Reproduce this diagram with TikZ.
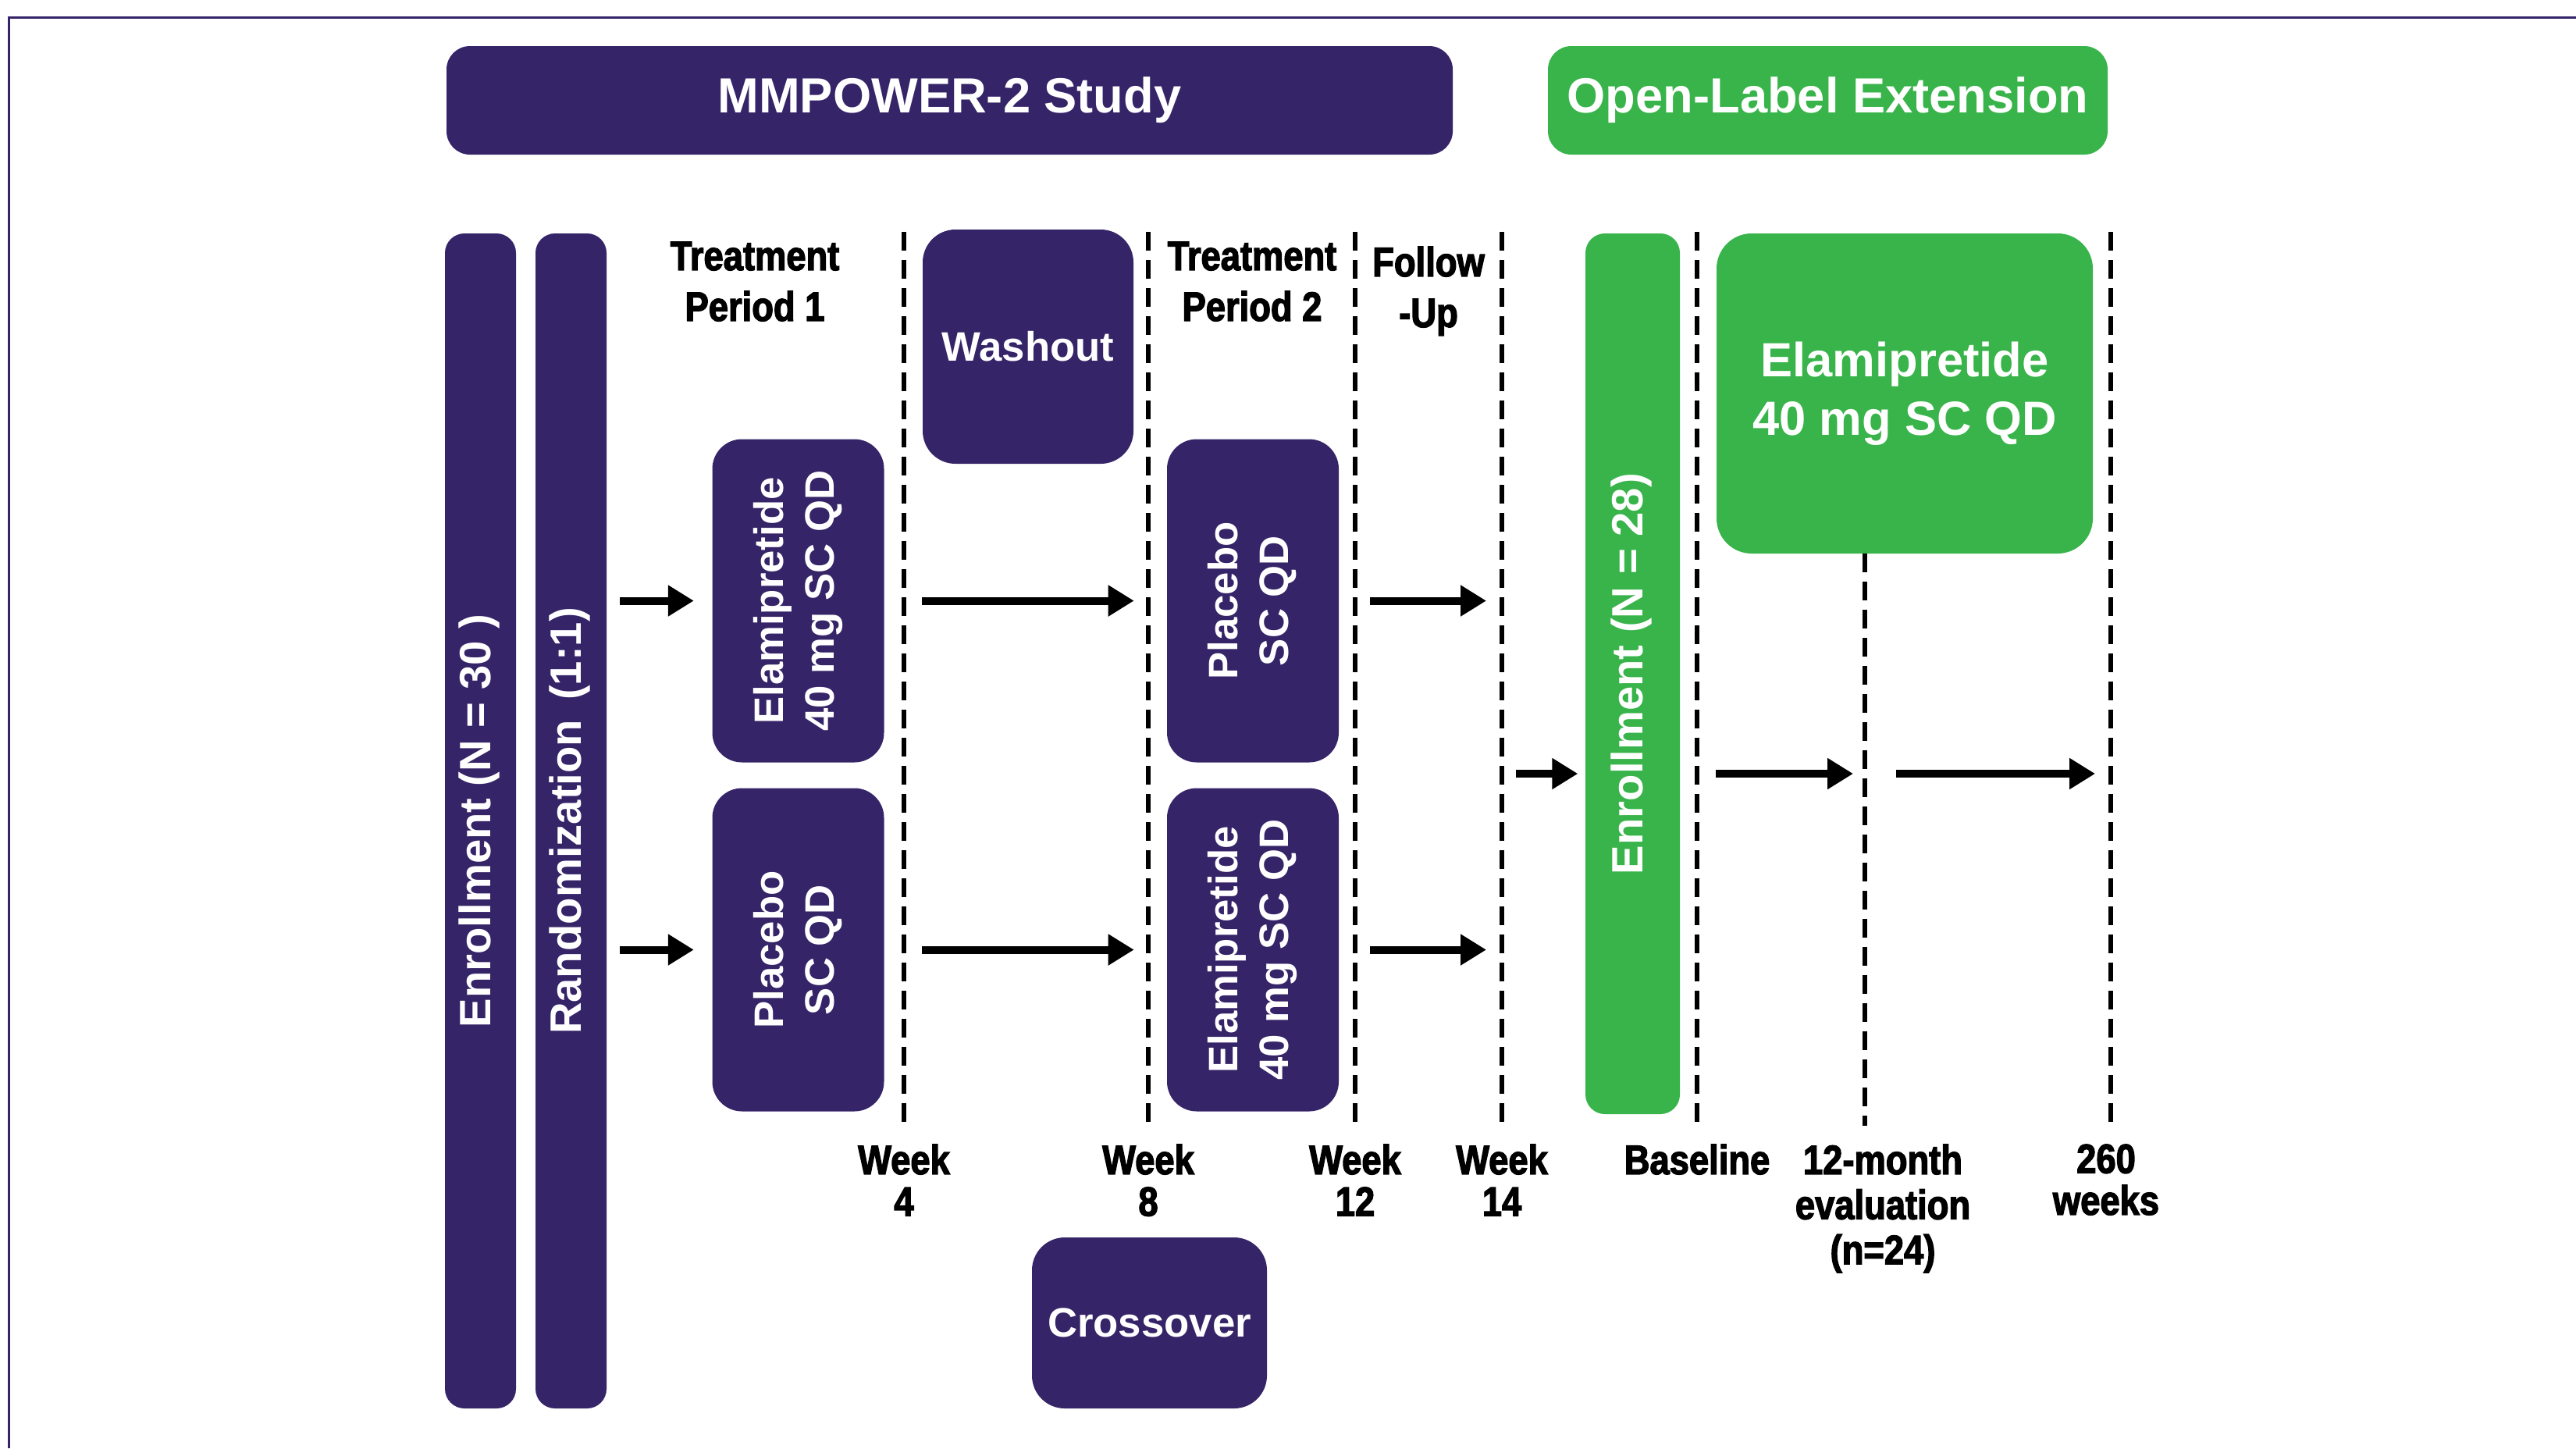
\documentclass[tikz,border=0pt]{standalone}
\usepackage{fontspec}
\setmainfont{Liberation Sans}
\newfontfamily\condfont[FakeStretch=0.86,FakeBold=2.5]{Liberation Sans}
\usepackage{graphicx}
\usetikzlibrary{arrows.meta}
\definecolor{mmpurple}{RGB}{54,36,104}
\definecolor{olegreen}{RGB}{56,180,74}
\newcommand{\vtext}[1]{\rotatebox{90}{\begin{tabular}{@{}c@{}}#1\end{tabular}}}
\begin{document}
\begin{tikzpicture}[every node/.style={inner sep=0pt},
  bar/.style={text=white,rounded corners=0.25cm,minimum height=15.05cm,font=\fontsize{16}{19}\selectfont\bfseries},
  head/.style={rounded corners=0.3cm,minimum height=1.39cm,text=white,font=\fontsize{18}{21}\selectfont\bfseries},
  arm/.style={fill=mmpurple,text=white,rounded corners=0.38cm,minimum width=2.2cm,minimum height=4.14cm,font=\fontsize{15}{18.5}\selectfont\bfseries},
  pause/.style={fill=mmpurple,text=white,rounded corners=0.42cm,font=\fontsize{15}{18}\selectfont\bfseries},
  period/.style={align=center,anchor=north,font=\condfont\fontsize{15}{18.5}\selectfont\bfseries},
  wklbl/.style={align=center,anchor=north,font=\condfont\fontsize{15}{15.2}\selectfont\bfseries},
  tick/.style={line width=0.055cm,dash pattern=on 0.24cm off 0.12cm},
  arr/.style={line width=0.1cm,-{Triangle[length=0.33cm,width=0.38cm]}}]
\useasboundingbox (0,0) rectangle (33,-18.55);
\draw[mmpurple,line width=0.03cm] (0.12,-18.55) -- (0.12,-0.22) -- (33,-0.22);
% headers
\node[head,fill=mmpurple,minimum width=12.89cm] (study) at (12.165,-1.285) {MMPOWER-2 Study};
\node[head,fill=olegreen,minimum width=7.17cm] (ext) at (23.415,-1.285) {Open-Label Extension};
% enrollment and randomization
\node[bar,fill=mmpurple,minimum width=0.91cm] (enr1) at (6.155,-10.515) {\vtext{Enrollment (N = 30 )}};
\node[bar,fill=mmpurple,minimum width=0.91cm] (rand) at (7.315,-10.515) {\vtext{Randomization\, (1:1)}};
% treatment arms
\node[arm] (ela1) at (10.225,-7.695) {\vtext{Elamipretide\\40 mg SC QD}};
\node[arm] (pla1) at (10.225,-12.165) {\vtext{Placebo\\SC QD}};
\node[arm] (pla2) at (16.05,-7.695) {\vtext{Placebo\\SC QD}};
\node[arm] (ela2) at (16.05,-12.165) {\vtext{Elamipretide\\40 mg SC QD}};
\node[pause,minimum width=2.70cm,minimum height=3.00cm] (wash) at (13.17,-4.44) {Washout};
\node[pause,minimum width=3.01cm,minimum height=2.19cm] (cross) at (14.725,-16.945) {Crossover};
% extension
\node[bar,fill=olegreen,minimum width=1.21cm,minimum height=11.28cm] (enr2) at (20.915,-8.63) {\vtext{Enrollment (N = 28)}};
\node[fill=olegreen,text=white,rounded corners=0.45cm,minimum width=4.82cm,minimum height=4.10cm,align=center,font=\fontsize{17.5}{21.3}\selectfont\bfseries] (ole) at (24.40,-5.04) {Elamipretide\\40 mg SC QD};
% timeline
\foreach \x/\n in {11.58/wk4,14.71/wk8,17.36/wk12,19.24/wk14,21.74/base,27.04/wk260}
  {\coordinate (\n) at (\x,-2.97); \draw[tick] (\n) -- (\x,-14.42);}
\coordinate (m12) at (23.89,-7.09);
\draw[tick] (m12) -- (23.89,-14.42);
\node[period] (tp1) at (9.67,-3.09) {Treatment\\Period 1};
\node[period] (tp2) at (16.04,-3.09) {Treatment\\Period 2};
\node[period] (fu) at (18.30,-3.15) {Follow\\-Up};
\node[wklbl] (l4) at (11.58,-14.65) {Week\\4};
\node[wklbl] (l8) at (14.71,-14.65) {Week\\8};
\node[wklbl] (l12) at (17.36,-14.65) {Week\\12};
\node[wklbl] (l14) at (19.24,-14.65) {Week\\14};
\node[wklbl] (lbase) at (21.74,-14.65) {Baseline};
\node[wklbl,font=\condfont\fontsize{15}{16.4}\selectfont\bfseries] (lm12) at (24.12,-14.65) {12-month\\evaluation\\(n=24)};
\node[wklbl] (l260) at (26.98,-14.65) {260\\weeks};
% arrows
\coordinate (mid) at (0,-9.91);
\draw[arr,shorten <=0.16cm,shorten >=0.23cm] (rand.east |- ela1) -- (ela1.west);
\draw[arr,shorten <=0.16cm,shorten >=0.23cm] (rand.east |- pla1) -- (pla1.west);
\draw[arr] (wash.west |- ela1) -- (wash.east |- ela1);
\draw[arr] (wash.west |- pla1) -- (wash.east |- pla1);
\draw[arr,shorten <=0.19cm,shorten >=0.20cm] (wk12 |- pla2) -- (wk14 |- pla2);
\draw[arr,shorten <=0.19cm,shorten >=0.20cm] (wk12 |- ela2) -- (wk14 |- ela2);
\draw[arr,shorten <=0.18cm,shorten >=0.09cm] (wk14 |- mid) -- (enr2.west |- mid);
\draw[arr,shorten >=0.15cm] (ole.west |- mid) -- (m12 |- mid);
\draw[arr,shorten <=0.40cm,shorten >=0.20cm] (m12 |- mid) -- (wk260 |- mid);
\end{tikzpicture}
\end{document}
